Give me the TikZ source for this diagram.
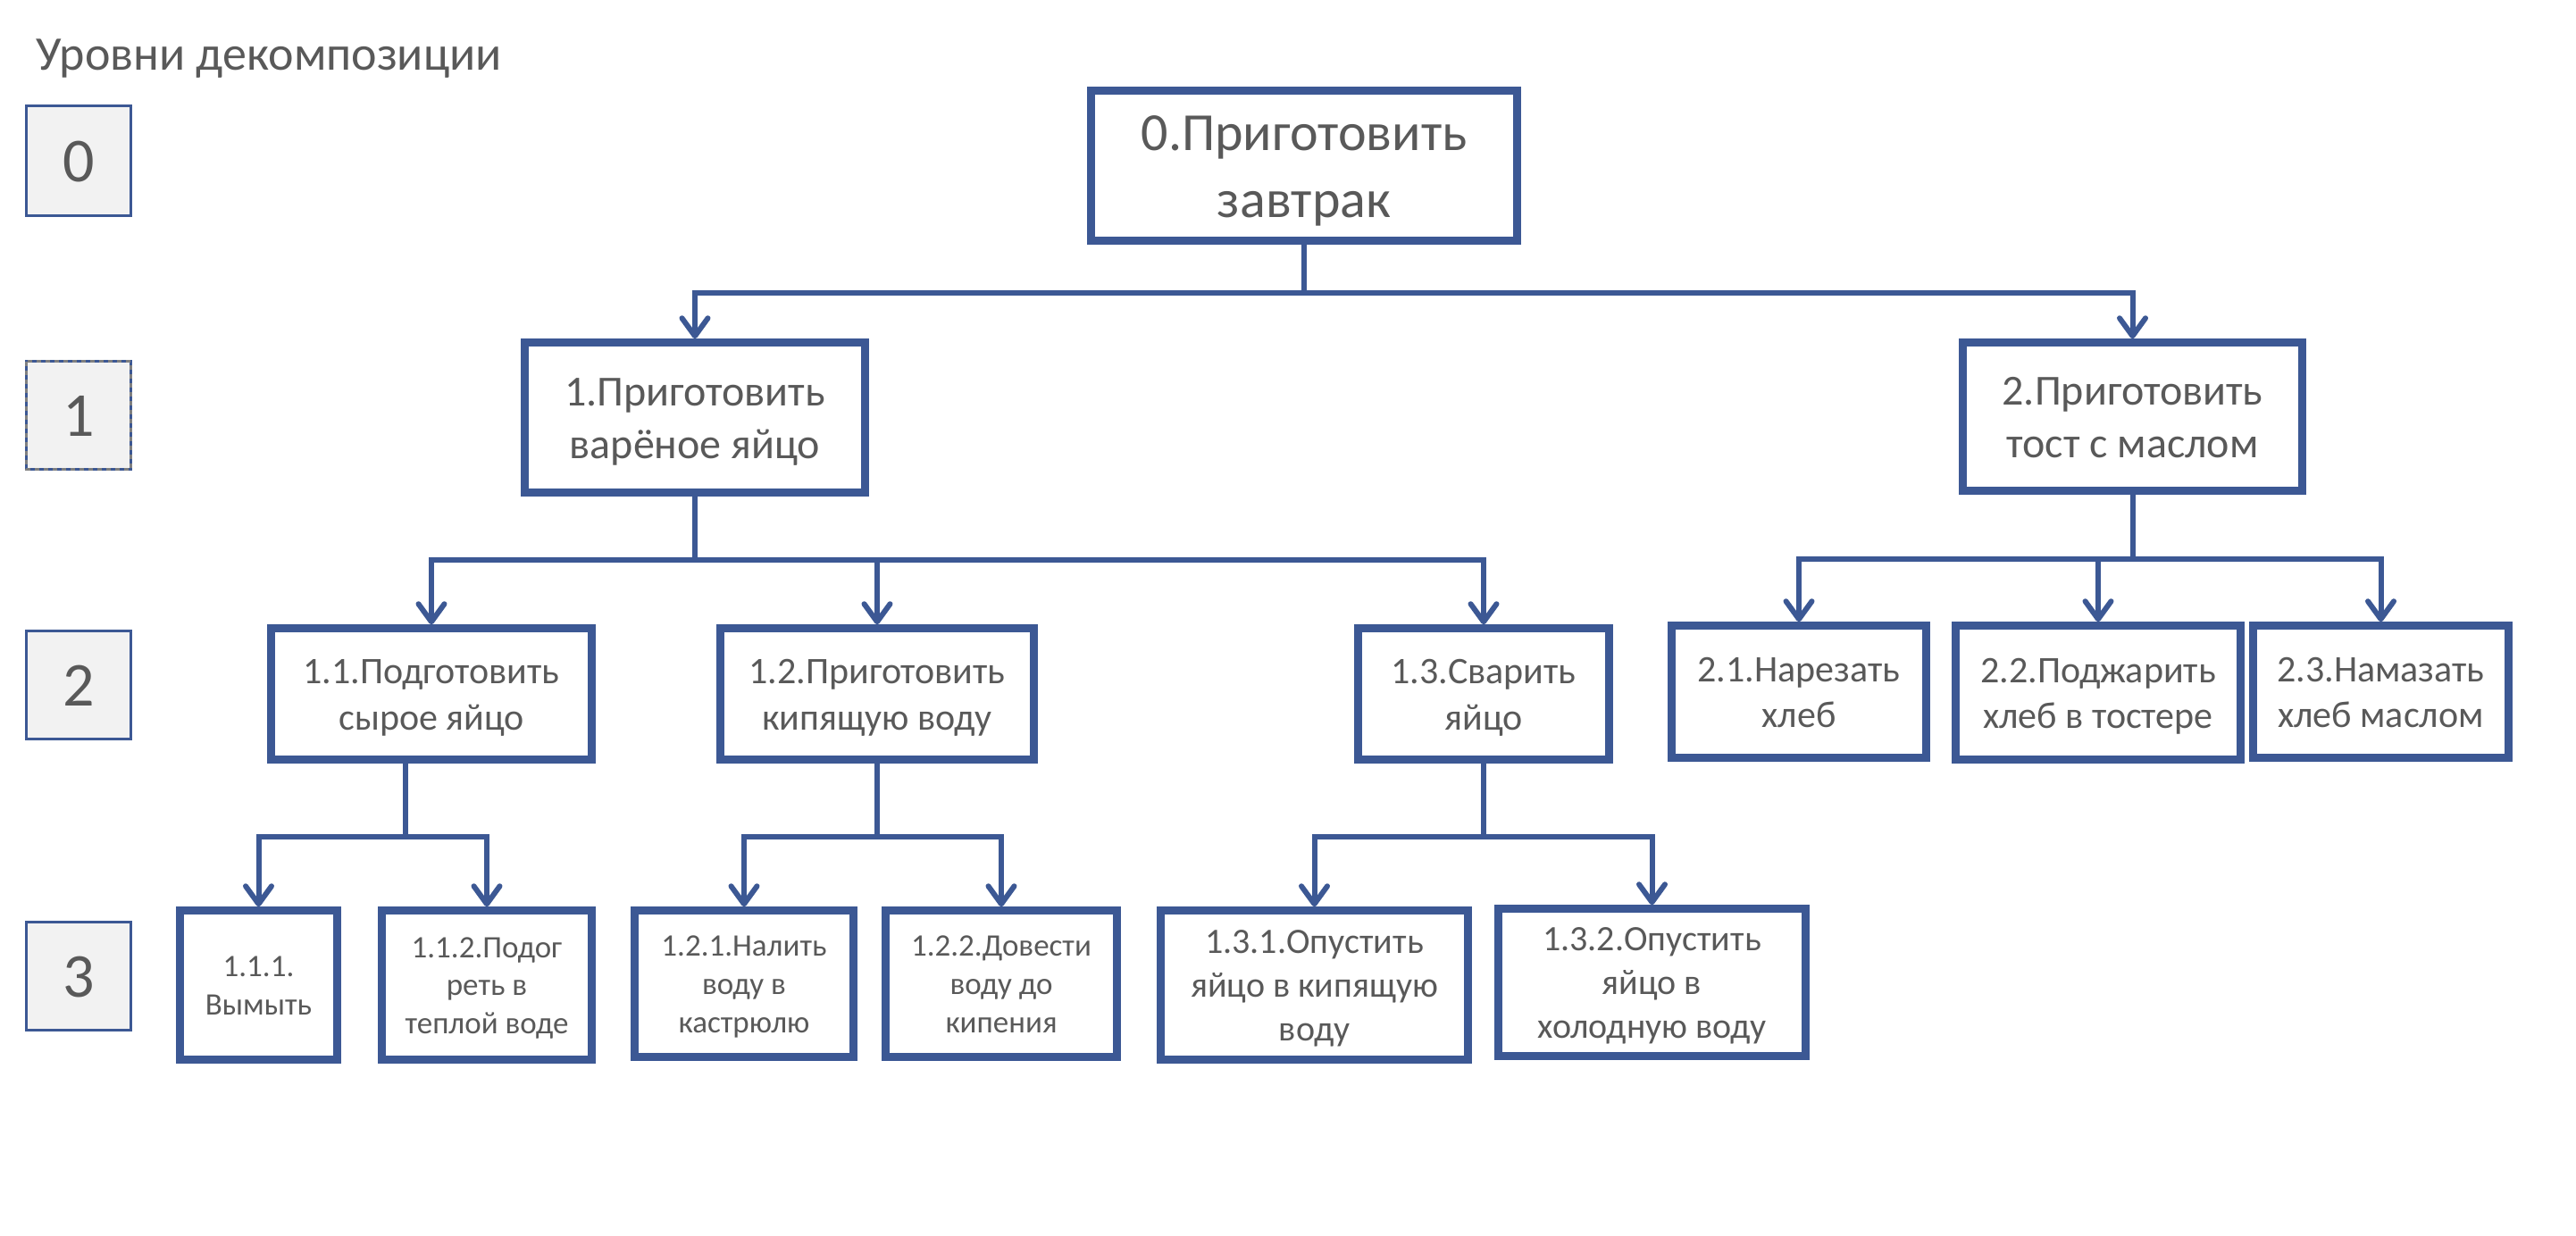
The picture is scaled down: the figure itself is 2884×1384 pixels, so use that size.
\documentclass[tikz,border=0pt]{standalone}
\usepackage{fontspec}
\setmainfont{Carlito}
\usetikzlibrary{arrows.meta}
\definecolor{bl}{HTML}{3C5894}
\definecolor{tx}{HTML}{595959}
\definecolor{lf}{HTML}{F2F2F2}
\definecolor{dg}{HTML}{808080}
\newcommand{\fs}[2]{\fontsize{#1}{#2}\selectfont}
\newcommand{\pstr}{\rule[-.269em]{0pt}{1.221em}}
\begin{document}
\begin{tikzpicture}[x=1pt,y=-1pt,
  box/.style={draw=bl, line width=8.5pt, fill=white, text=tx, align=center, inner sep=0pt},
  lvl/.style={draw=bl, line width=3pt, fill=lf, text=tx, inner sep=0pt, outer sep=0pt,
    minimum width=117pt, minimum height=121pt, font=\fs{70}{85}},
  conn/.style={draw=bl, line width=6pt, line join=miter},
  arr/.style={conn, -{Straight Barb[length=20pt,width=29pt,round]}},
  f0/.style={font=\fs{60}{73}},
  f1/.style={font=\fs{48}{58.6}},
  f2/.style={font=\fs{42}{51.3}},
  f3/.style={font=\fs{35}{42.7}},
  f3b/.style={font=\fs{40}{48.8}}
]
\useasboundingbox (0,0) rectangle (2884,1384);
\fill[white] (0,0) rectangle (2884,1384);

% title and level boxes
\node[anchor=base west, text=tx, font=\fs{54}{65}, inner sep=0pt] (title) at (40,78) {Уровни декомпозиции};
\node[lvl, minimum height=123pt] (L0) at (88,180) {\pstr 0};
\node[lvl] (L1) at (88,465) {\pstr 1};
\draw[dg, line width=3pt, dash pattern=on 5pt off 5pt] (L1.north west) rectangle (L1.south east);
\node[lvl] (L2) at (88,767) {\pstr 2};
\node[lvl] (L3) at (88,1092.5) {\pstr 3};

% level 0
\node[box, f0, minimum width=477pt, minimum height=168pt] (B0) at (1460,185.5) {\pstr 0.Приготовить\\завтрак\pstr};
% level 1
\node[box, f1, minimum width=381pt, minimum height=168pt] (B1) at (778,467.5) {\pstr 1.Приготовить\\варёное яйцо\pstr};
\node[box, f1, minimum width=380pt, minimum height=166pt] (B2) at (2387.5,466.5) {\pstr 2.Приготовить\\тост с маслом\pstr};
% level 2
\node[box, f2, minimum width=359pt, minimum height=147pt] (B11) at (483,777) {\pstr 1.1.Подготовить\\сырое яйцо\pstr};
\node[box, f2, minimum width=351pt, minimum height=147pt] (B12) at (982,777) {\pstr 1.2.Приготовить\\кипящую воду\pstr};
\node[box, f2, minimum width=281pt, minimum height=147pt] (B13) at (1661,777) {\pstr 1.3.Сварить\\яйцо\pstr};
\node[box, f2, minimum width=285pt, minimum height=148pt] (B21) at (2014,774.5) {\pstr 2.1.Нарезать\\хлеб\pstr};
\node[box, f2, minimum width=319pt, minimum height=150pt] (B22) at (2349,775.5) {\pstr 2.2.Поджарить\\хлеб в тостере\pstr};
\node[box, f2, minimum width=286pt, minimum height=148pt] (B23) at (2665.5,774.5) {\pstr 2.3.Намазать\\хлеб маслом\pstr};
% level 3
\node[box, f3, minimum width=176pt, minimum height=167pt] (B111) at (289.5,1103) {\pstr 1.1.1.\\Вымыть\pstr};
\node[box, f3, minimum width=235pt, minimum height=167pt] (B112) at (545,1103) {\pstr 1.1.2.Подог\\реть в\\теплой воде\pstr};
\node[box, f3, minimum width=245pt, minimum height=164pt] (B121) at (833,1101.5) {\pstr 1.2.1.Налить\\воду в\\кастрюлю\pstr};
\node[box, f3, minimum width=259pt, minimum height=164pt] (B122) at (1121,1101.5) {\pstr 1.2.2.Довести\\воду до\\кипения\pstr};
\node[box, f3b, minimum width=344pt, minimum height=167pt] (B131) at (1471.5,1103) {\pstr 1.3.1.Опустить\\яйцо в кипящую\\воду\pstr};
\node[box, f3b, minimum width=344pt, minimum height=165pt] (B132) at (1849.5,1100) {\pstr 1.3.2.Опустить\\яйцо в\\холодную воду\pstr};

% bus coordinates
\coordinate (h0) at (0,328);
\coordinate (h1) at (0,627);
\coordinate (h2) at (0,626);
\coordinate (h3) at (0,937);
\coordinate (v11) at (454,0);

% connectors
\draw[arr] (B0.south) -- (B0.south |- h0) -| (B1.north);
\draw[arr] (B0.south) -- (B0.south |- h0) -| (B2.north);

\draw[arr] (B1.south) -- (B1.south |- h1) -| (B11.north);
\draw[arr] (B1.south) -- (B1.south |- h1) -| (B12.north);
\draw[arr] (B1.south) -- (B1.south |- h1) -| (B13.north);

\draw[arr] (B2.south) -- (B2.south |- h2) -| (B21.north);
\draw[arr] (B2.south) -- (B2.south |- h2) -| (B22.north);
\draw[arr] (B2.south) -- (B2.south |- h2) -| (B23.north);

\draw[arr] (B11.south -| v11) -- (v11 |- h3) -| (B111.north);
\draw[arr] (B11.south -| v11) -- (v11 |- h3) -| (B112.north);

\draw[arr] (B12.south) -- (B12.south |- h3) -| (B121.north);
\draw[arr] (B12.south) -- (B12.south |- h3) -| (B122.north);

\draw[arr] (B13.south) -- (B13.south |- h3) -| (B131.north);
\draw[arr] (B13.south) -- (B13.south |- h3) -| (B132.north);
\end{tikzpicture}
\end{document}
